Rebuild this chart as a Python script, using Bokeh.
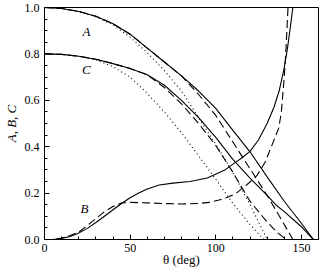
import math
from bokeh.plotting import figure
from bokeh.models import Range1d, SingleIntervalTicker, PrintfTickFormatter, Label
from bokeh.embed import file_html
from bokeh.resources import INLINE

# ---- data ----
theta_A_solid = [0, 10, 20, 30, 40, 50, 60, 70, 80, 90, 100, 110, 120, 130, 140, 150, 157]
A_solid = [1.0, 0.996, 0.983, 0.962, 0.93, 0.885, 0.825, 0.765, 0.705, 0.64, 0.565, 0.47, 0.378, 0.27, 0.165, 0.07, 0.0]

theta_A_dash = [0, 10, 20, 30, 40, 50, 60, 70, 80, 90, 100, 110, 120, 130, 140, 145]
A_dash = [1.0, 0.996, 0.983, 0.962, 0.93, 0.885, 0.825, 0.765, 0.705, 0.625, 0.535, 0.42, 0.305, 0.19, 0.065, 0.0]

theta_A_dot = [0, 10, 20, 30, 40, 50, 60, 70, 80, 90, 100, 110, 120, 125, 130]
A_dot = [1.0, 0.996, 0.983, 0.96, 0.925, 0.872, 0.805, 0.728, 0.64, 0.525, 0.41, 0.29, 0.15, 0.075, 0.0]

theta_C_solid = [0, 10, 20, 30, 40, 50, 60, 70, 80, 90, 100, 110, 120, 130, 135, 140, 150, 157]
C_solid = [0.8, 0.798, 0.79, 0.777, 0.758, 0.737, 0.71, 0.665, 0.60, 0.525, 0.44, 0.345, 0.265, 0.19, 0.15, 0.12, 0.055, 0.0]

theta_C_dash = [0, 10, 20, 30, 40, 50, 60, 70, 80, 90, 100, 110, 120, 130, 136, 141]
C_dash = [0.8, 0.798, 0.79, 0.777, 0.758, 0.737, 0.71, 0.655, 0.585, 0.50, 0.405, 0.29, 0.165, 0.075, 0.03, 0.0]

theta_C_dot = [0, 10, 20, 30, 40, 50, 60, 70, 80, 90, 100, 110, 120, 128]
C_dot = [0.8, 0.798, 0.79, 0.775, 0.745, 0.70, 0.63, 0.55, 0.46, 0.36, 0.26, 0.155, 0.065, 0.0]

theta_B_solid = [0, 5, 10, 15, 20, 25, 30, 35, 40, 45, 50, 55, 60, 67, 75, 85, 95, 105, 110, 115, 120, 125, 130, 134, 137, 140, 142, 144, 145]
B_solid = [0.0, 0.0, 0.005, 0.013, 0.028, 0.048, 0.073, 0.1, 0.128, 0.155, 0.18, 0.2, 0.218, 0.235, 0.243, 0.25, 0.265, 0.298, 0.325, 0.35, 0.38, 0.43, 0.5, 0.57, 0.64, 0.74, 0.83, 0.94, 1.0]

theta_B_dash = [0, 5, 10, 15, 20, 25, 30, 35, 40, 45, 50, 60, 70, 80, 90, 96, 102, 108, 112, 118, 124, 128.8, 133, 136.8, 138.3, 140, 141, 142.2]
B_dash = [0.0, 0.0, 0.006, 0.017, 0.032, 0.06, 0.09, 0.12, 0.142, 0.157, 0.16, 0.158, 0.155, 0.153, 0.155, 0.16, 0.17, 0.185, 0.2, 0.235, 0.275, 0.333, 0.41, 0.48, 0.55, 0.7, 0.82, 1.0]

x_ticks_interval = 50
y_ticks_interval = 0.2
x_title = "θ (deg)"
y_title = "A, B, C"

FONT = "Liberation Serif"

p = figure(width=320, height=269, output_backend="svg", toolbar_location=None,
           x_range=Range1d(0, 160), y_range=Range1d(0, 1.0),
           min_border_left=44, min_border_right=2, min_border_top=7, min_border_bottom=28)
p.grid.visible = False
p.outline_line_color = "black"
p.outline_line_width = 1
p.background_fill_color = "white"
p.border_fill_color = "white"

for ax in (p.xaxis[0], p.yaxis[0]):
    ax.major_tick_in = 5
    ax.major_tick_out = 0
    ax.minor_tick_in = 3
    ax.minor_tick_out = 0
    ax.axis_line_color = "black"
    ax.major_tick_line_color = "black"
    ax.minor_tick_line_color = "black"
    ax.major_label_text_font = FONT
    ax.major_label_text_font_size = "12px"
    ax.major_label_text_color = "black"
    ax.axis_label_text_font = FONT
    ax.axis_label_text_font_size = "13px"
    ax.axis_label_text_color = "black"

p.xaxis.ticker = SingleIntervalTicker(interval=x_ticks_interval, num_minor_ticks=5)
p.yaxis.ticker = SingleIntervalTicker(interval=y_ticks_interval, num_minor_ticks=4)
p.yaxis.formatter = PrintfTickFormatter(format="%.1f")
p.xaxis.major_label_standoff = 4
p.yaxis.major_label_standoff = 5
p.xaxis.axis_label = x_title
p.xaxis.axis_label_text_font_style = "normal"
p.xaxis.axis_label_standoff = -3
p.yaxis.axis_label = y_title
p.yaxis.axis_label_text_font_style = "italic"
p.yaxis.axis_label_standoff = 3

lw = 1.1
p.line(theta_A_solid, A_solid, line_color="black", line_width=lw)
p.line(theta_A_dash, A_dash, line_color="black", line_width=lw, line_dash="8 4")
p.line(theta_A_dot, A_dot, line_color="black", line_width=lw, line_dash="1 3")
p.line(theta_C_solid, C_solid, line_color="black", line_width=lw)
p.line(theta_C_dash, C_dash, line_color="black", line_width=lw, line_dash="8 4")
p.line(theta_C_dot, C_dot, line_color="black", line_width=lw, line_dash="1 3")
p.line(theta_B_solid, B_solid, line_color="black", line_width=lw)
p.line(theta_B_dash, B_dash, line_color="black", line_width=lw, line_dash="8 4")

for txt, x, y in (("A", 24.5, 0.895), ("C", 24.5, 0.734), ("B", 23.4, 0.135)):
    p.add_layout(Label(x=x, y=y, text=txt, text_font=FONT, text_font_style="italic",
                       text_font_size="13px", text_align="center", text_baseline="middle",
                       text_color="black"))

open("out.html", "w").write(file_html(p, INLINE))
